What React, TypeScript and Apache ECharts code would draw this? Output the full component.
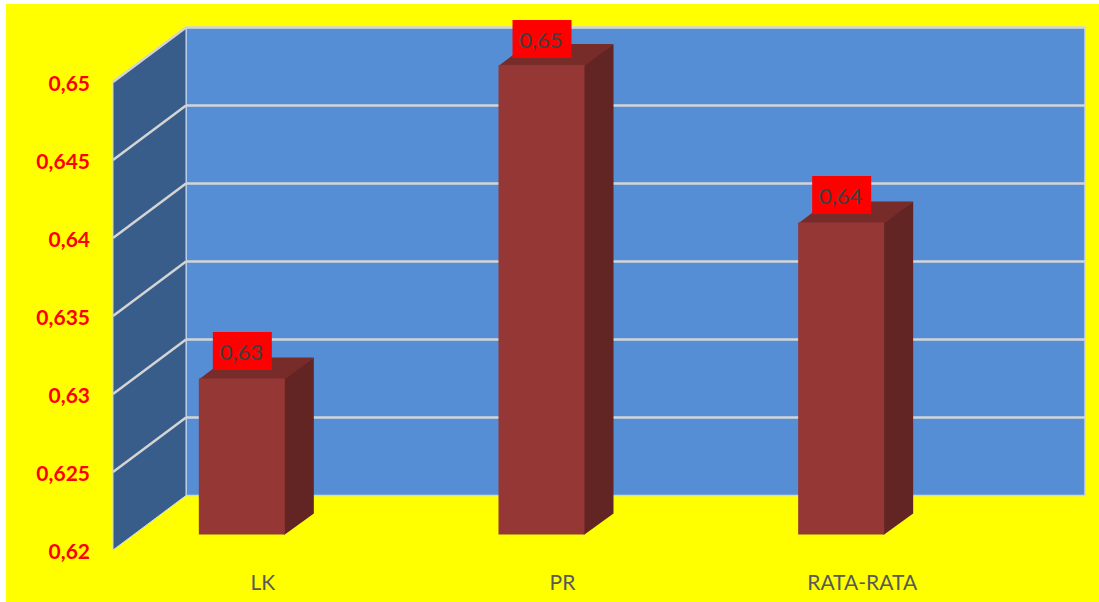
import React, { useEffect, useRef } from "react";
import * as echarts from "echarts";

const categories = ["LK", "PR", "RATA-RATA"];
const values = [0.63, 0.6501, 0.64];
const valueLabels = ["0,63", "0,65", "0,64"];
const labelAnchors = [0.63, 0.65, 0.64];
const yTicks = [0.62, 0.625, 0.63, 0.635, 0.64, 0.645, 0.65];

const DEPTH_X = 73;
const DEPTH_Y = 54.5;
const BAR_W = 86;
const BAR_DX = 29;
const BAR_DY = 21;
const BAR_SHIFT_X = -21;
const BAR_SHIFT_Y = -15.5;
const FONT = "Lato, Carlito, Calibri, sans-serif";

export default function App() {
  const ref = useRef<HTMLDivElement>(null);
  useEffect(() => {
    const chart = echarts.init(ref.current!, null, { renderer: "svg" });
    chart.setOption({
      animation: false,
      backgroundColor: "transparent",
      grid: { left: 113, right: 87, top: 82, bottom: 52, containLabel: false },
      xAxis: {
        type: "category",
        data: categories,
        axisLine: { show: false },
        axisTick: { show: false },
        splitLine: { show: false },
        axisLabel: { color: "#595959", fontSize: 21, fontFamily: FONT, margin: 21 },
      },
      yAxis: {
        type: "value",
        min: 0.62,
        max: 0.65,
        interval: 0.005,
        axisLine: { show: false },
        axisTick: { show: false },
        splitLine: { show: false },
        axisLabel: {
          color: "#ff0000",
          fontSize: 21,
          fontWeight: "bold",
          fontFamily: FONT,
          margin: 23,
          formatter: (v: number) => String(v).replace(".", ","),
        },
      },
      series: [
        {
          type: "custom",
          name: "walls",
          z: 1,
          silent: true,
          data: [[0, yTicks[0]]],
          renderItem: (params: any, api: any) => {
            const c = params.coordSys;
            const l = c.x, r = c.x + c.width, t = c.y, b = c.y + c.height;
            return {
              type: "group",
              children: [
                {
                  type: "polygon",
                  shape: { points: [[l + DEPTH_X, t - DEPTH_Y], [r + DEPTH_X, t - DEPTH_Y], [r + DEPTH_X, b - DEPTH_Y], [l + DEPTH_X, b - DEPTH_Y]] },
                  style: { fill: "#558ed5", stroke: "#c6d6ec", lineWidth: 1.5 },
                },
                {
                  type: "polygon",
                  shape: { points: [[l, t], [l + DEPTH_X, t - DEPTH_Y], [l + DEPTH_X, b - DEPTH_Y], [l, b]] },
                  style: { fill: "#385d8a", stroke: "#c6d6ec", lineWidth: 1 },
                },
              ],
            };
          },
        },
        {
          type: "custom",
          name: "gridlines",
          z: 2,
          silent: true,
          data: yTicks.slice(1).map((v) => [0, v]),
          renderItem: (params: any, api: any) => {
            const c = params.coordSys;
            const y = api.coord([0, api.value(1)])[1];
            const style = { stroke: "#d4d4d4", lineWidth: 2.5, fill: "none" };
            return {
              type: "group",
              children: [
                { type: "line", shape: { x1: c.x, y1: y, x2: c.x + DEPTH_X, y2: y - DEPTH_Y }, style },
                { type: "line", shape: { x1: c.x + DEPTH_X, y1: y - DEPTH_Y, x2: c.x + c.width + DEPTH_X, y2: y - DEPTH_Y }, style },
              ],
            };
          },
        },
        {
          type: "custom",
          name: "bars",
          z: 3,
          silent: true,
          data: values.map((v, i) => [i, v]),
          renderItem: (params: any, api: any) => {
            const i = api.value(0);
            const v = api.value(1);
            const top = api.coord([i, v]);
            const base = api.coord([i, yTicks[0]]);
            const anchorY = api.coord([i, labelAnchors[i]])[1] + BAR_SHIFT_Y;
            const xL = top[0] + BAR_SHIFT_X - BAR_W / 2;
            const xR = xL + BAR_W;
            const yT = top[1] + BAR_SHIFT_Y;
            const yB = base[1] + BAR_SHIFT_Y;
            const cx = xL + BAR_W / 2 + 0.5;
            return {
              type: "group",
              children: [
                {
                  type: "polygon",
                  shape: { points: [[xR - 1, yT], [xR + BAR_DX, yT - BAR_DY], [xR + BAR_DX, yB - BAR_DY], [xR, yB], [xR - 1, yB]] },
                  style: { fill: "#632523" },
                },
                {
                  type: "polygon",
                  shape: { points: [[xL, yT + 1], [xL + BAR_DX, yT - BAR_DY], [xR + BAR_DX, yT - BAR_DY], [xR, yT + 1]] },
                  style: { fill: "#772c2a" },
                },
                {
                  type: "rect",
                  shape: { x: xL, y: yT, width: BAR_W, height: yB - yT },
                  style: { fill: "#953735" },
                },
                {
                  type: "rect",
                  shape: { x: cx - 29.5, y: anchorY - 46.5, width: 59, height: 38 },
                  style: { fill: "#ff0000" },
                },
                {
                  type: "text",
                  style: {
                    x: cx - 1,
                    y: anchorY - 27,
                    text: valueLabels[i],
                    fill: "#404040",
                    fontSize: 22,
                    fontFamily: FONT,
                    align: "center",
                    verticalAlign: "middle",
                  },
                },
              ],
            };
          },
        },
      ],
    });
    return () => chart.dispose();
  }, []);
  return (
    <div style={{ position: "fixed", left: 0, top: 0, width: 1099, height: 602, background: "#ffffff" }}>
      <div style={{ position: "absolute", left: 6, top: 4, right: 0, bottom: 0, background: "#ffff00" }} />
      <div ref={ref} style={{ position: "absolute", left: 0, top: 0, width: 1099, height: 602 }} />
    </div>
  );
}
